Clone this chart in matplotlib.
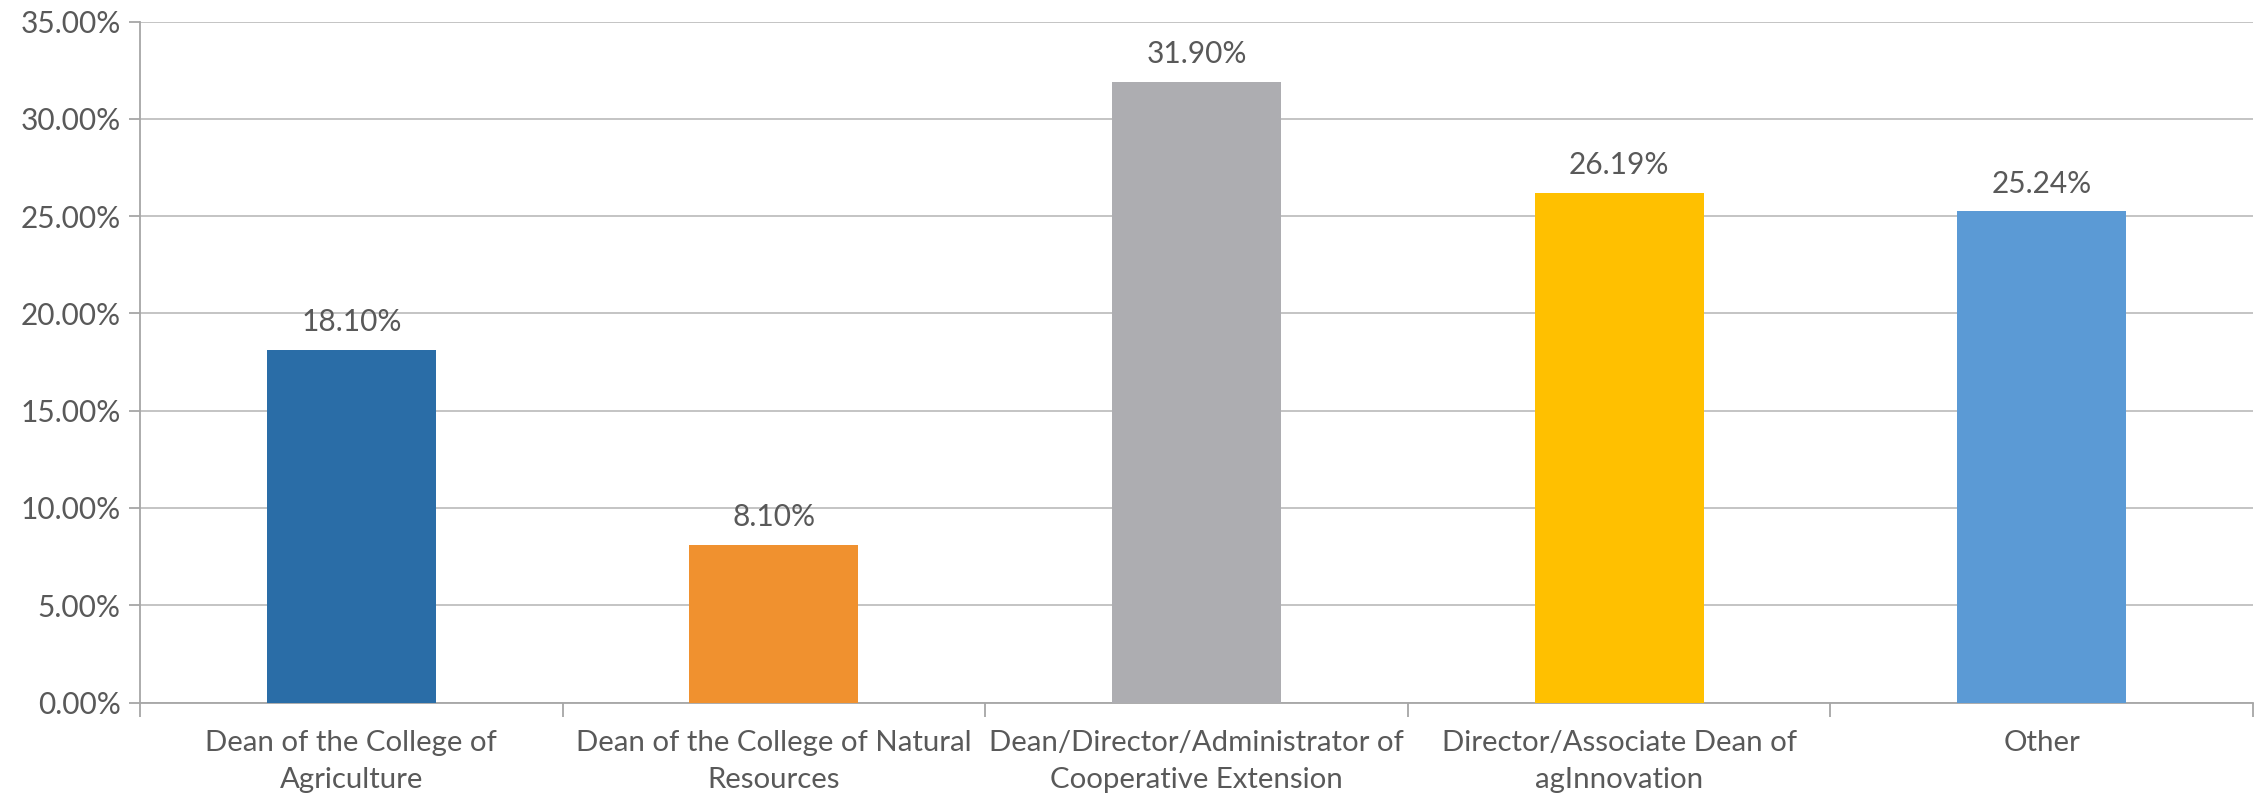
import matplotlib
matplotlib.use("Agg")
import matplotlib.pyplot as plt
from matplotlib.ticker import FuncFormatter, FixedLocator
import numpy as np

categories = [
    "Dean of the College of\nAgriculture",
    "Dean of the College of Natural\nResources",
    "Dean/Director/Administrator of\nCooperative Extension",
    "Director/Associate Dean of\nagInnovation",
    "Other",
]
values = [18.10, 8.10, 31.90, 26.19, 25.24]
bar_labels = ["18.10%", "8.10%", "31.90%", "26.19%", "25.24%"]
colors = ["#2A6DA7", "#F0912F", "#ADADB1", "#FFC000", "#5B9AD5"]
yticks = [0, 5, 10, 15, 20, 25, 30, 35]

plt.rcParams['font.family'] = ['Lato', 'DejaVu Sans']
text_color = "#595959"

fig = plt.figure(figsize=(22.62, 7.99), dpi=100)
ax = fig.add_axes([140/2262, (799-702.5)/799, (2253-140)/2262, (702.5-21.6)/799])

x = np.arange(len(categories))
ax.bar(x, values, width=0.40, color=colors, zorder=3)
for xi, v, lab in zip(x, values, bar_labels):
    ax.annotate(lab, (xi, v), xytext=(0, 10), textcoords="offset points",
                ha="center", va="bottom", fontsize=21.5, color=text_color)

ax.set_xlim(-0.5, len(categories) - 0.5)
ax.set_ylim(0, 35)
ax.set_yticks(yticks)
ax.yaxis.set_major_formatter(FuncFormatter(lambda v, p: f"{v:.2f}%"))
ax.grid(axis="y", color="#BFBFBF", linewidth=1.3, zorder=0)

ax.set_xticks(x)
ax.set_xticklabels(categories, fontsize=21.2, color=text_color, linespacing=1.5)
ax.xaxis.set_minor_locator(FixedLocator(np.arange(-0.5, len(categories), 1.0)))
ax.tick_params(axis="x", which="major", length=0, pad=20)
ax.tick_params(axis="x", which="minor", length=10, color="#A6A6A6", width=1.3)
ax.tick_params(axis="y", labelsize=21.5, labelcolor=text_color, length=8,
               color="#A6A6A6", width=1.3, pad=6)

for s in ["top", "right"]:
    ax.spines[s].set_visible(False)
for s in ["left", "bottom"]:
    ax.spines[s].set_color("#A6A6A6")
    ax.spines[s].set_linewidth(1.3)

fig.savefig("out.png", dpi=100, facecolor="white")
